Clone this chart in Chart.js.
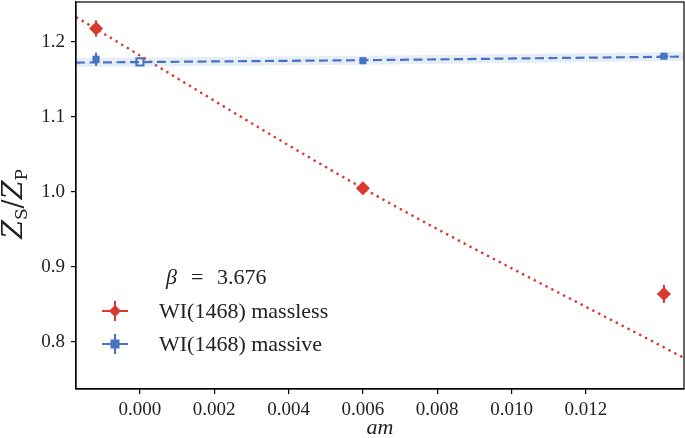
<!DOCTYPE html>
<html>
<head>
<meta charset="utf-8">
<script src="https://cdn.jsdelivr.net/npm/chart.js@4.4.1/dist/chart.umd.min.js"></script>
<style>
  html, body { margin: 0; padding: 0; background: #fff; }
  #wrap { width: 685px; height: 438px; }
</style>
</head>
<body>
<div id="wrap"><canvas id="chart"></canvas></div>
<script>
// data
const amMassless = [-0.00118, 0.006, 0.0141];
const zMassless = [1.218, 1.005, 0.864];
const zMasslessErr = [0.011, 0.003, 0.012];
const amMasslessErr = [0.0001, 0.00005, 0.00017];

const amMassive = [-0.00118, 0.006, 0.0141];
const zMassive = [1.177, 1.175, 1.181];
const zMassiveErr = [0.009, 0.003, 0.003];
const amMassiveErr = [0.00006, 0.00005, 0.00012];

const amExtrap = [0.0];
const zExtrap = [1.1735];

const fitAm = [-0.00172, 0.006, 0.01464];
const fitMassless = [1.2333, 1.005, 0.7787];
const fitMassive = [1.1725, 1.1757, 1.1805];
const fitMassiveBand = [0.006, 0.006, 0.006];

const xTicks = [0.000, 0.002, 0.004, 0.006, 0.008, 0.010, 0.012];
const yTicks = [0.8, 0.9, 1.0, 1.1, 1.2];
const xRange = [-0.00172, 0.01464];
const yRange = [0.7373, 1.2533];

const RED = '#d93a30';
const BLUE = '#4673c2';
const FONT = '"Liberation Serif", "DejaVu Serif", serif';

const pts = (xs, ys) => xs.map((x, i) => ({ x: x, y: ys[i] }));

// error bars under the markers
const errorBars = {
    id: 'errorBars',
    beforeDatasetsDraw(chart) {
        const { ctx, scales: { x, y } } = chart;
        const draw = (xs, ys, xe, ye, color) => {
            ctx.save();
            ctx.strokeStyle = color;
            ctx.lineWidth = 2;
            xs.forEach((v, i) => {
                const px = x.getPixelForValue(v);
                const py = y.getPixelForValue(ys[i]);
                ctx.beginPath();
                ctx.moveTo(px, y.getPixelForValue(ys[i] - ye[i]));
                ctx.lineTo(px, y.getPixelForValue(ys[i] + ye[i]));
                ctx.moveTo(x.getPixelForValue(v - xe[i]), py);
                ctx.lineTo(x.getPixelForValue(v + xe[i]), py);
                ctx.stroke();
            });
            ctx.restore();
        };
        draw(amMassless, zMassless, amMasslessErr, zMasslessErr, RED);
        draw(amMassive, zMassive, amMassiveErr, zMassiveErr, BLUE);
    }
};

// frame, axis titles and legend
const decorations = {
    id: 'decorations',
    afterDraw(chart) {
        const { ctx, chartArea: a } = chart;
        ctx.save();
        ctx.strokeStyle = '#000';
        ctx.lineWidth = 1.2;
        ctx.strokeRect(a.left, a.top, a.right - a.left, a.bottom - a.top);

        ctx.fillStyle = '#222';
        ctx.textBaseline = 'alphabetic';

        // x title
        ctx.font = 'italic 22px ' + FONT;
        ctx.textAlign = 'center';
        ctx.fillText('am', (a.left + a.right) / 2, 434);

        // y title  Z_S / Z_P
        ctx.save();
        ctx.translate(22, 204);
        ctx.rotate(-Math.PI / 2);
        const parts = [
            ['italic 27px "DejaVu Serif", serif', 'Z', 0],
            ['17px "DejaVu Serif", serif', 'S', 5],
            ['27px "DejaVu Serif", serif', '/', 0],
            ['italic 27px "DejaVu Serif", serif', 'Z', 0],
            ['17px "DejaVu Serif", serif', 'P', 5]
        ];
        let total = 0;
        parts.forEach(p => { ctx.font = p[0]; total += ctx.measureText(p[1]).width; });
        let cx = -total / 2;
        ctx.textAlign = 'left';
        parts.forEach(p => {
            ctx.font = p[0];
            ctx.fillText(p[1], cx, p[2]);
            cx += ctx.measureText(p[1]).width;
        });
        ctx.restore();

        // legend
        const lx = a.left + 39, ly = a.top + 282;
        ctx.font = 'italic 22px ' + FONT;
        ctx.textAlign = 'left';
        ctx.fillText('β', 166, ly);
        ctx.font = '22px ' + FONT;
        ctx.fillText('=', 191, ly);
        ctx.fillText('3.676', 217, ly);

        const entry = (yy, color, label, diamond) => {
            const mx = lx, my = yy - 7;
            ctx.strokeStyle = color;
            ctx.fillStyle = color;
            ctx.lineWidth = 2;
            ctx.beginPath();
            ctx.moveTo(mx - 13, my); ctx.lineTo(mx + 13, my);
            ctx.moveTo(mx, my - 10); ctx.lineTo(mx, my + 10);
            ctx.stroke();
            ctx.beginPath();
            if (diamond) {
                ctx.moveTo(mx, my - 6); ctx.lineTo(mx + 6, my);
                ctx.lineTo(mx, my + 6); ctx.lineTo(mx - 6, my);
                ctx.closePath();
            } else {
                ctx.rect(mx - 4.5, my - 4.5, 9, 9);
            }
            ctx.fill();
            ctx.fillStyle = '#222';
            ctx.font = '22px ' + FONT;
            ctx.fillText(label, 159, yy);
        };
        entry(ly + 34, RED, 'WI(1468) massless', true);
        entry(ly + 67, BLUE, 'WI(1468) massive', false);
        ctx.restore();
    }
};

const bandUpper = fitMassive.map((v, i) => v + fitMassiveBand[i]);
const bandLower = fitMassive.map((v, i) => v - fitMassiveBand[i]);

new Chart(document.getElementById('chart'), {
    type: 'scatter',
    data: {
        datasets: [
            {
                data: pts(fitAm, bandLower),
                showLine: true, pointRadius: 0, borderWidth: 0,
                borderColor: 'rgba(0,0,0,0)', fill: false
            },
            {
                data: pts(fitAm, bandUpper),
                showLine: true, pointRadius: 0, borderWidth: 0,
                borderColor: 'rgba(0,0,0,0)',
                backgroundColor: 'rgba(70,115,194,0.13)', fill: '-1'
            },
            {
                data: pts(fitAm, fitMassive),
                showLine: true, pointRadius: 0,
                borderColor: BLUE, borderWidth: 2.2, borderDash: [9, 4.5]
            },
            {
                data: pts(fitAm, fitMassless),
                showLine: true, pointRadius: 0, cubicInterpolationMode: 'monotone',
                borderColor: RED, borderWidth: 2.4, borderDash: [2.4, 4.2]
            },
            {
                data: pts(amMassless, zMassless),
                pointStyle: 'rectRot', pointRadius: 7,
                backgroundColor: RED, borderColor: RED, borderWidth: 0
            },
            {
                data: pts(amMassive, zMassive),
                pointStyle: 'rect', pointRadius: 5,
                backgroundColor: BLUE, borderColor: BLUE, borderWidth: 0
            },
            {
                data: pts(amExtrap, zExtrap),
                pointStyle: 'rect', pointRadius: 5,
                backgroundColor: '#fff', borderColor: BLUE, borderWidth: 2
            }
        ]
    },
    options: {
        responsive: true,
        maintainAspectRatio: false,
        animation: false,
        layout: { autoPadding: false, padding: { top: 2, right: 1, left: 0, bottom: 0 } },
        plugins: { legend: { display: false }, tooltip: { enabled: false } },
        scales: {
            x: {
                type: 'linear',
                min: xRange[0], max: xRange[1],
                afterBuildTicks: s => { s.ticks = xTicks.map(v => ({ value: v })); },
                afterFit: s => { s.height = 438 - 389; s.paddingLeft = 0; s.paddingRight = 0; },
                grid: { display: true, drawOnChartArea: false, drawTicks: true, tickLength: 5, color: '#000', lineWidth: 1.2 },
                border: { display: true, color: '#000', width: 1.2 },
                ticks: {
                    color: '#222', padding: 5, maxRotation: 0,
                    font: { family: FONT, size: 19 },
                    callback: v => v.toFixed(3)
                }
            },
            y: {
                type: 'linear',
                min: yRange[0], max: yRange[1],
                afterBuildTicks: s => { s.ticks = yTicks.map(v => ({ value: v })); },
                afterFit: s => { s.width = 76; s.paddingTop = 0; s.paddingBottom = 0; },
                grid: { display: true, drawOnChartArea: false, drawTicks: true, tickLength: 5, color: '#000', lineWidth: 1.2 },
                border: { display: true, color: '#000', width: 1.2 },
                ticks: {
                    color: '#222', padding: 6,
                    font: { family: FONT, size: 19 },
                    callback: v => v.toFixed(1)
                }
            }
        }
    },
    plugins: [errorBars, decorations]
});
</script>
</body>
</html>
